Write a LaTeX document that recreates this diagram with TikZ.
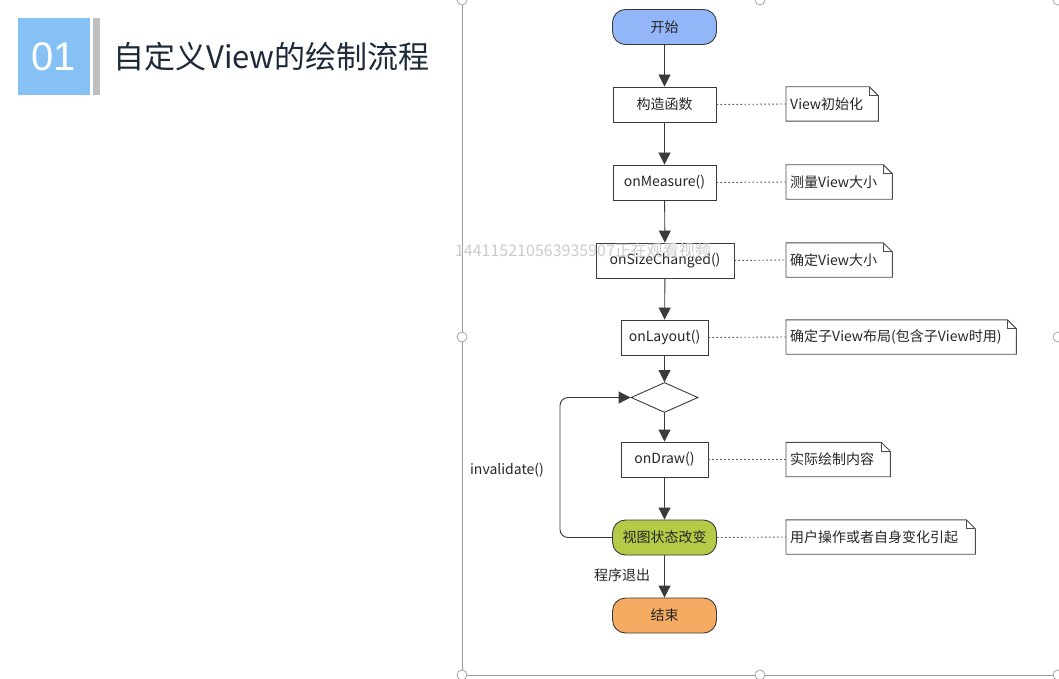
\documentclass[tikz,border=0pt]{standalone}
\usepackage{fontspec}
\setmainfont{Noto Sans CJK SC}
\newfontfamily\numfont{Liberation Sans}
\usetikzlibrary{shapes.geometric,arrows.meta}
\definecolor{titleblue}{HTML}{85C1F5}
\definecolor{bargray}{HTML}{BFBFBF}
\definecolor{titletext}{HTML}{1E2A3A}
\definecolor{startblue}{HTML}{92B6F7}
\definecolor{stategreen}{HTML}{B3CB47}
\definecolor{endorange}{HTML}{F5AC62}
\definecolor{edge}{HTML}{3A3A3A}
\definecolor{framegray}{HTML}{9A9A9A}
\tikzset{
  every node/.style={font=\fontsize{14}{16}\selectfont, text=black!85},
  procbox/.style={draw=edge, line width=0.9pt, fill=white, minimum height=35, inner sep=0pt},
  termbox/.style={draw=edge, line width=0.9pt, rounded corners=13pt, minimum width=104, minimum height=35, inner sep=0pt},
  decbox/.style={draw=edge, line width=0.9pt, diamond, aspect=2.3, minimum width=67, minimum height=30, inner sep=0pt, fill=white},
  flow/.style={draw=edge, line width=0.9pt, -{Triangle[length=12pt,width=12pt]}},
  link/.style={draw=black!65, line width=0.9pt, dash pattern=on 1.6pt off 2.4pt},
  notebox/.style={anchor=west, align=left, minimum height=34, inner xsep=4pt, inner ysep=0pt},
  noteline/.style={draw=black!70, line width=0.9pt},
  handle/.style={circle, draw=framegray, fill=white, line width=0.7pt, minimum size=10pt, inner sep=0pt},
}
\begin{document}
\begin{tikzpicture}[x=1pt,y=-1pt]
\useasboundingbox (0,0) rectangle (1059,679);
\clip (0,0) rectangle (1059,679);
\fill[white] (0,0) rectangle (1059,679);
% title
\node[fill=titleblue, minimum width=72, minimum height=77, inner sep=0pt, text=white,
      font=\numfont\fontsize{40}{44}\selectfont] (num) at (54,56.5) {01};
\node[fill=bargray, minimum width=7, minimum height=77, inner sep=0pt] (bar) at (96.5,56.5) {};
\node[anchor=west, text=titletext, font=\fontsize{31}{36}\selectfont, inner sep=0pt] (title) at (113,57) {自定义View的绘制流程};
% selection frame
\draw[framegray, line width=0.9pt] (462,-3) rectangle (1060,675);
\foreach \hx/\hy [count=\i] in {462/0,760/0,1058/0,462/337,1058/337,462/675,760/675,1058/675}
  \node[handle] (h\i) at (\hx,\hy) {};
% flowchart nodes
\node[termbox, fill=startblue] (start) at (664.5,27) {开始};
\node[procbox, minimum width=103] (ctor) at (664.5,104.5) {构造函数};
\node[procbox, minimum width=103] (meas) at (664.5,182.5) {onMeasure()};
\node[procbox, minimum width=138] (size) at (665,260.5) {onSizeChanged()};
\node[procbox, minimum width=87] (lay) at (664.5,337.5) {onLayout()};
\node[decbox] (dec) at (664.5,397.5) {};
\node[procbox, minimum width=87] (draw) at (664.5,459.5) {onDraw()};
\node[termbox, fill=stategreen] (state) at (664.5,537.5) {视图状态改变};
\node[termbox, fill=endorange] (end) at (664.5,615.5) {结束};
% notes
\node[notebox, text width=84] (n1) at (786,104) {View初始化};
\node[notebox, text width=98] (n2) at (786,182) {测量View大小};
\node[notebox, text width=98] (n3) at (786,260) {确定View大小};
\node[notebox, text width=222] (n4) at (786,337) {确定子View布局(包含子View时用)};
\node[notebox, text width=96] (n5) at (786,459.5) {实际绘制内容};
\node[notebox, text width=181] (n6) at (786,537) {用户操作或者自身变化引起};
\foreach \n in {n1,n2,n3,n4,n5,n6}{
  \draw[noteline] (\n.south west) -- (\n.north west)
      -- ([xshift=-9pt]\n.north east) -- ([yshift=-9pt]\n.north east)
      -- (\n.south east) -- cycle;
  \draw[noteline] ([xshift=-9pt]\n.north east) |- ([yshift=-9pt]\n.north east);
}
% labels
\node (inv) at (507,470) {invalidate()};
\node (quit) at (622,575) {程序退出};
% arrows
\draw[flow] (start) -- (ctor);
\draw[flow] (ctor) -- (meas);
\draw[flow] (meas) -- (size);
\draw[flow] (size) -- (lay);
\draw[flow] (lay) -- (dec);
\draw[flow] (dec) -- (draw);
\draw[flow] (draw) -- (state);
\draw[flow] (state) -- (end);
\draw[flow, rounded corners=8pt] (state.west) -- (560,537.5) -- (560,397.5) -- (dec.west);
% dotted links
\draw[link] (ctor.east) -- (n1.west);
\draw[link] (meas.east) -- (n2.west);
\draw[link] (size.east) -- (n3.west);
\draw[link] (lay.east) -- (n4.west);
\draw[link] (draw.east) -- (n5.west);
\draw[link] (state.east) -- (n6.west);
% watermark
\node[text=black!20, font=\fontsize{16}{18}\selectfont] (wm) at (583,250) {144115210563935907正在观看视频};
\end{tikzpicture}
\end{document}
